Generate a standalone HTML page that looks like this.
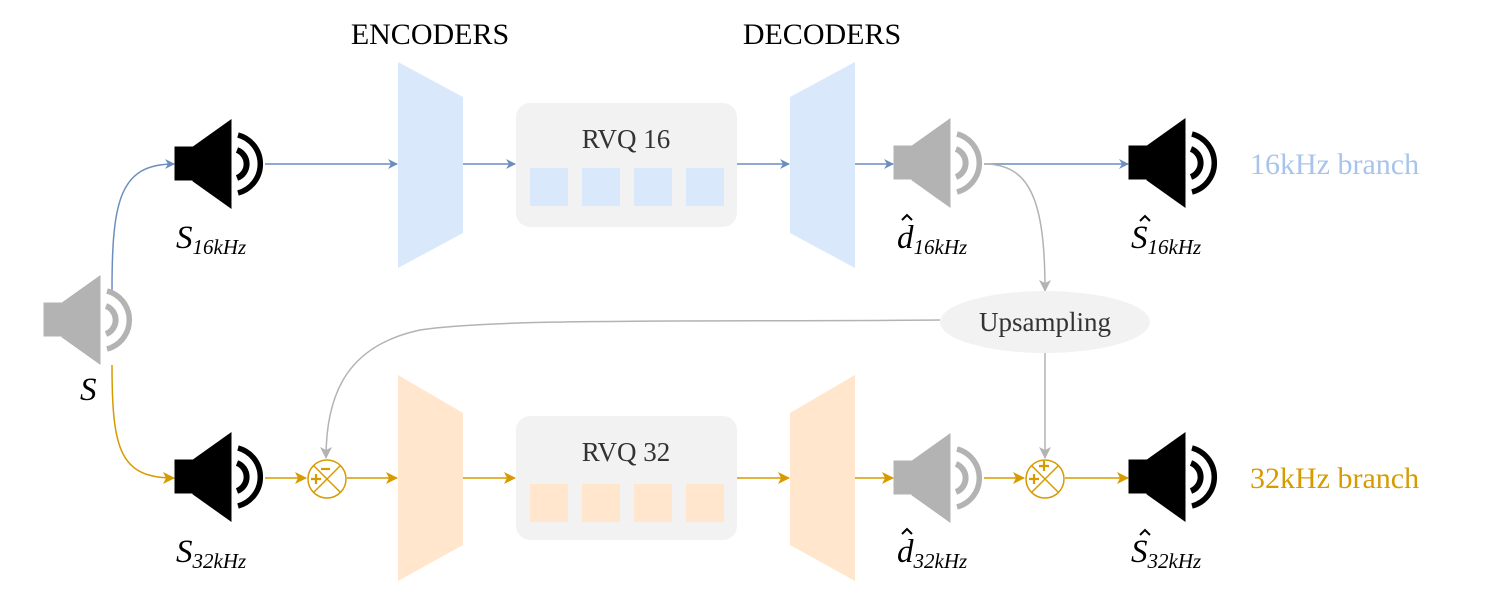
<!DOCTYPE html>
<html><head><meta charset="utf-8"><style>
html,body{margin:0;padding:0;background:#fff;}
svg{display:block}
text{font-family:"Liberation Serif",serif;}
.m{font-style:italic;font-size:33px;}
.s{font-size:21px;}
.si{font-style:italic;font-size:21px;}
</style></head><body>
<svg width="1494" height="599" viewBox="0 0 1494 599" xmlns="http://www.w3.org/2000/svg">
<defs>
<g id="spk">
<rect x="-56" y="-17" width="19" height="33"/>
<polygon points="-38,-17 0,-44 0,44 -38,17"/>
<path d="M6,-14 A15,15 0 0 1 6,14" fill="none" stroke-width="6"/>
<path d="M7,-29 A30,30 0 0 1 7,29" fill="none" stroke-width="5.5"/>
</g>
<marker id="ab" markerWidth="10" markerHeight="10" refX="9" refY="5" orient="auto" markerUnits="userSpaceOnUse"><path d="M0,0 L10,5 L0,10 L3,5z" fill="#6c8ebf"/></marker>
<marker id="ao" markerWidth="12" markerHeight="12" refX="11" refY="6" orient="auto" markerUnits="userSpaceOnUse"><path d="M0,0 L12,6 L0,12 L3,6z" fill="#d79b00"/></marker>
<marker id="ag" markerWidth="12" markerHeight="12" refX="11" refY="6" orient="auto" markerUnits="userSpaceOnUse"><path d="M0,0 L12,6 L0,12 L3,6z" fill="#b3b3b3"/></marker>
</defs>

<text x="430" y="44" font-size="30" text-anchor="middle">ENCODERS</text>
<text x="822" y="44" font-size="30" text-anchor="middle">DECODERS</text>

<polygon points="398,62 463,97 463,233 398,268" fill="#dae8fc"/>
<polygon points="790,97 855,62 855,268 790,233" fill="#dae8fc"/>
<polygon points="398,375 463,413 463,545 398,581" fill="#ffe6cc"/>
<polygon points="790,413 855,375 855,581 790,545" fill="#ffe6cc"/>

<rect x="516" y="103" width="221" height="124" rx="14" fill="#f2f2f2"/>
<text x="626" y="148" font-size="27" text-anchor="middle" fill="#333">RVQ 16</text>
<g fill="#dae8fc"><rect x="530" y="168" width="38" height="38"/><rect x="582" y="168" width="38" height="38"/><rect x="634" y="168" width="38" height="38"/><rect x="686" y="168" width="38" height="38"/></g>
<rect x="516" y="416" width="221" height="124" rx="14" fill="#f2f2f2"/>
<text x="626" y="461" font-size="27" text-anchor="middle" fill="#333">RVQ 32</text>
<g fill="#ffe6cc"><rect x="530" y="484" width="38" height="38"/><rect x="582" y="484" width="38" height="38"/><rect x="634" y="484" width="38" height="38"/><rect x="686" y="484" width="38" height="38"/></g>

<g stroke="#6c8ebf" stroke-width="1.5" fill="none">
<path d="M112,290 C112,200 120,164 174,164" marker-end="url(#ab)"/>
<path d="M265,164 L397,164" marker-end="url(#ab)"/>
<path d="M463,164 L515,164" marker-end="url(#ab)"/>
<path d="M737,164 L789,164" marker-end="url(#ab)"/>
<path d="M855,164 L893,164" marker-end="url(#ab)"/>
<path d="M984,164 L1128,164" marker-end="url(#ab)"/>
</g>
<g stroke="#d79b00" stroke-width="1.5" fill="none">
<path d="M112,365 C112,450 120,478 174,478" marker-end="url(#ao)"/>
<path d="M265,478 L306,478" marker-end="url(#ao)"/>
<path d="M347,478 L397,478" marker-end="url(#ao)"/>
<path d="M463,478 L515,478" marker-end="url(#ao)"/>
<path d="M737,478 L789,478" marker-end="url(#ao)"/>
<path d="M855,478 L893,478" marker-end="url(#ao)"/>
<path d="M984,478 L1024,478" marker-end="url(#ao)"/>
<path d="M1065,478 L1128,478" marker-end="url(#ao)"/>
</g>
<g stroke="#b3b3b3" stroke-width="1.5" fill="none">
<path d="M984,164 C1030,164 1045,200 1045,291" marker-end="url(#ag)"/>
<path d="M1045,352 L1045,458" marker-end="url(#ag)"/>
<path d="M940,320 C700,322 500,318 420,330 C350,345 326,390 326,458" marker-end="url(#ag)"/>
</g>

<ellipse cx="1045" cy="322" rx="105" ry="31" fill="#f2f2f2"/>
<text x="1045" y="331" font-size="27" text-anchor="middle" fill="#333">Upsampling</text>

<g stroke="#d79b00" stroke-width="1.5" fill="#fff">
<circle cx="327" cy="479" r="19"/>
<path d="M314,466 L340,492 M340,466 L314,492" fill="none"/>
<circle cx="1045" cy="479" r="19"/>
<path d="M1032,466 L1058,492 M1058,466 L1032,492" fill="none"/>
</g>
<g stroke="#d79b00" stroke-width="2.2">
<path d="M311,479 h10 M316,474 v10"/>
<path d="M321,469 h9"/>
<path d="M1029,479 h10 M1034,474 v10"/>
<path d="M1039,466 h10 M1044,461 v10"/>
</g>

<use href="#spk" x="231" y="164" fill="#000" stroke="#000"/>
<use href="#spk" x="231" y="477" fill="#000" stroke="#000"/>
<use href="#spk" x="100" y="320" fill="#b3b3b3" stroke="#b3b3b3"/>
<use href="#spk" x="950" y="163" fill="#b3b3b3" stroke="#b3b3b3"/>
<use href="#spk" x="950" y="478" fill="#b3b3b3" stroke="#b3b3b3"/>
<use href="#spk" x="1185" y="163" fill="#000" stroke="#000"/>
<use href="#spk" x="1185" y="477" fill="#000" stroke="#000"/>

<text x="176" y="248" class="m">S<tspan class="s" dy="6">16</tspan><tspan class="si">kHz</tspan></text>
<text x="176" y="562" class="m">S<tspan class="s" dy="6">32</tspan><tspan class="si">kHz</tspan></text>
<text x="80" y="400" class="m">S</text>
<text x="897" y="248" class="m">d<tspan class="s" dy="6">16</tspan><tspan class="si">kHz</tspan></text>
<text x="897" y="562" class="m">d<tspan class="s" dy="6">32</tspan><tspan class="si">kHz</tspan></text>
<text x="1131" y="248" class="m">S<tspan class="s" dy="6">16</tspan><tspan class="si">kHz</tspan></text>
<text x="1131" y="562" class="m">S<tspan class="s" dy="6">32</tspan><tspan class="si">kHz</tspan></text>
<g stroke="#000" stroke-width="2" fill="none">
<path d="M902,220 l5,-5 l5,5"/>
<path d="M902,534 l5,-5 l5,5"/>
<path d="M1140,221 l5,-5 l5,5"/>
<path d="M1140,535 l5,-5 l5,5"/>
</g>

<text x="1250" y="174" font-size="30" fill="#a9c4eb">16kHz branch</text>
<text x="1250" y="488" font-size="30" fill="#d79b00">32kHz branch</text>
</svg>
</body></html>
